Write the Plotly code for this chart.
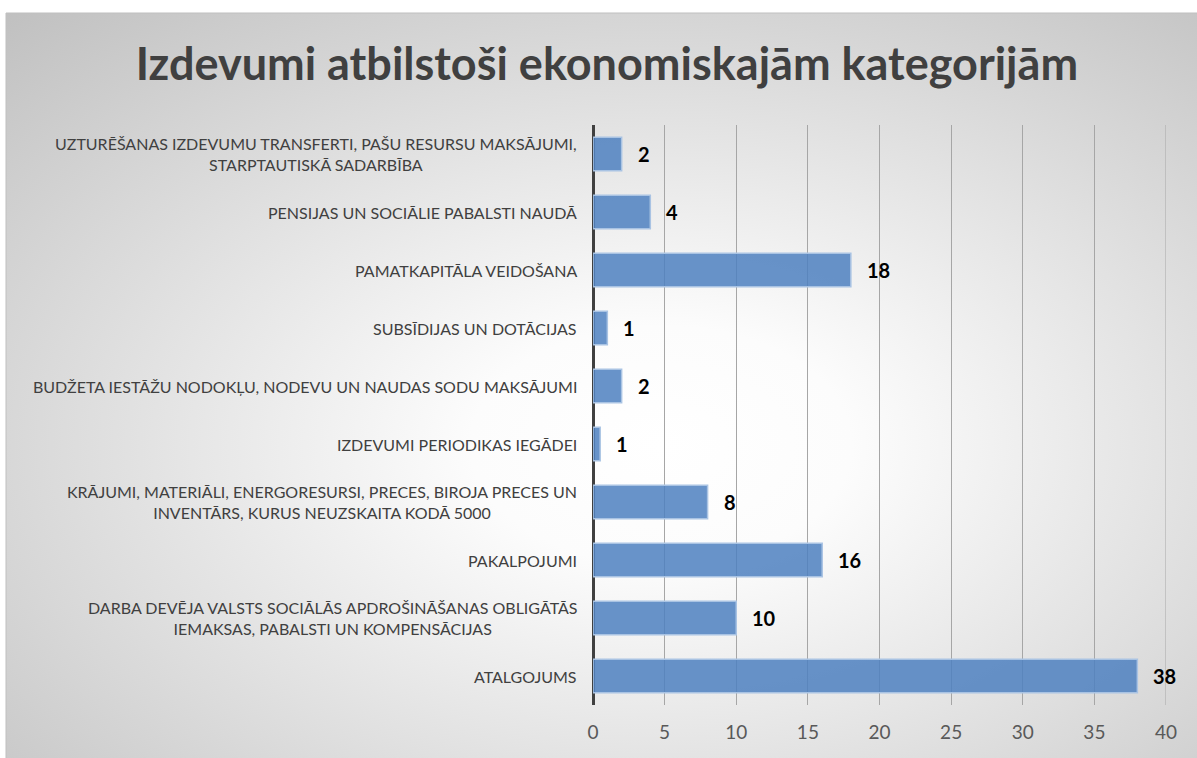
import base64
import plotly.graph_objects as go

categories = [
    "UZTURĒŠANAS IZDEVUMU TRANSFERTI, PAŠU RESURSU MAKSĀJUMI,<br>STARPTAUTISKĀ SADARBĪBA",
    "PENSIJAS UN SOCIĀLIE PABALSTI NAUDĀ",
    "PAMATKAPITĀLA VEIDOŠANA",
    "SUBSĪDIJAS UN DOTĀCIJAS",
    "BUDŽETA IESTĀŽU NODOKĻU, NODEVU UN NAUDAS SODU MAKSĀJUMI",
    "IZDEVUMI PERIODIKAS IEGĀDEI",
    "KRĀJUMI, MATERIĀLI, ENERGORESURSI, PRECES, BIROJA PRECES UN<br>INVENTĀRS, KURUS NEUZSKAITA KODĀ 5000",
    "PAKALPOJUMI",
    "DARBA DEVĒJA VALSTS SOCIĀLĀS APDROŠINĀŠANAS OBLIGĀTĀS<br>IEMAKSAS, PABALSTI UN KOMPENSĀCIJAS",
    "ATALGOJUMS",
]
values = [2, 4, 18, 1, 2, 0.5, 8, 16, 10, 38]
value_labels = ["2", "4", "18", "1", "2", "1", "8", "16", "10", "38"]
x_ticks = [0, 5, 10, 15, 20, 25, 30, 35, 40]
title_text = "Izdevumi atbilstoši ekonomiskajām kategorijām"

W, H = 1197, 758
L, R, T, B = 593, 31, 125, 53
pw, ph = W - L - R, H - T - B

svg = (
    '<svg xmlns="http://www.w3.org/2000/svg" width="400" height="250" '
    'viewBox="0 0 400 250" preserveAspectRatio="none">'
    '<defs><radialGradient id="g" cx="0.55" cy="0.58" r="0.8">'
    '<stop offset="0" stop-color="#ffffff"/>'
    '<stop offset="0.2" stop-color="#fcfcfc"/>'
    '<stop offset="1" stop-color="#c0c0c0"/>'
    '</radialGradient></defs>'
    '<rect x="0" y="0" width="400" height="250" fill="url(#g)"/></svg>'
)
src = "data:image/svg+xml;base64," + base64.b64encode(svg.encode()).decode()

def px_x(p):
    return (p - L) / pw

def px_y(p):
    return (H - B - p) / ph

fig = go.Figure()
fig.add_trace(go.Bar(
    x=values, y=categories, orientation="h",
    marker=dict(color="rgba(79,129,192,0.86)",
                line=dict(color="#a9c3e3", width=1.5)),
    width=0.58, hoverinfo="x+y",
))

annotations = []
for c in categories:
    annotations.append(dict(
        x=0, xref="paper", y=c, yref="y", text=c, showarrow=False,
        xanchor="right", yanchor="middle", align="center", xshift=-14,
        font=dict(family="Lato", size=16, color="#404040"),
    ))
for c, v, t in zip(categories, values, value_labels):
    annotations.append(dict(
        x=v, xref="x", y=c, yref="y", text="<b>" + t + "</b>", showarrow=False,
        xanchor="left", yanchor="middle", xshift=14,
        font=dict(family="Lato", size=20, color="#000000"),
    ))

fig.update_layout(
    width=W, height=H,
    margin=dict(l=L, r=R, t=T, b=B),
    paper_bgcolor="#ffffff",
    plot_bgcolor="rgba(0,0,0,0)",
    showlegend=False,
    title=dict(text="<b>" + title_text + "</b>", x=0.507, xanchor="center",
               y=1 - 64 / H, yanchor="middle", yref="container",
               font=dict(family="Lato", size=45, color="#404040")),
    xaxis=dict(range=[0, 40], tickvals=x_ticks, showgrid=True,
               gridcolor="#a6a6a6", gridwidth=1,
               zeroline=True, zerolinecolor="#404040", zerolinewidth=3,
               tickfont=dict(family="Lato", size=19, color="#595959"),
               ticks="", ticklabelstandoff=14, fixedrange=True),
    yaxis=dict(autorange="reversed", showticklabels=False, showgrid=False,
               zeroline=False, ticks="", fixedrange=True),
    annotations=annotations,
    images=[dict(source=src, xref="paper", yref="paper",
                 x=px_x(6), y=px_y(13), sizex=px_x(W) - px_x(6),
                 sizey=px_y(13) - px_y(H), xanchor="left", yanchor="top",
                 sizing="stretch", layer="below")],
    shapes=[
        dict(type="rect", xref="paper", yref="paper",
             x0=px_x(6), x1=px_x(W + 2), y0=px_y(H + 2), y1=px_y(13),
             line=dict(color="#bfbfbf", width=1), layer="below"),
        dict(type="line", xref="x", yref="paper",
             x0=x_ticks[-1], x1=x_ticks[-1], y0=0, y1=1,
             line=dict(color="#a6a6a6", width=1), layer="below"),
    ],
)

fig.write_html("out.html",
               config={"displayModeBar": False},
               post_script="document.body.style.margin='0';document.body.style.overflow='hidden';")
